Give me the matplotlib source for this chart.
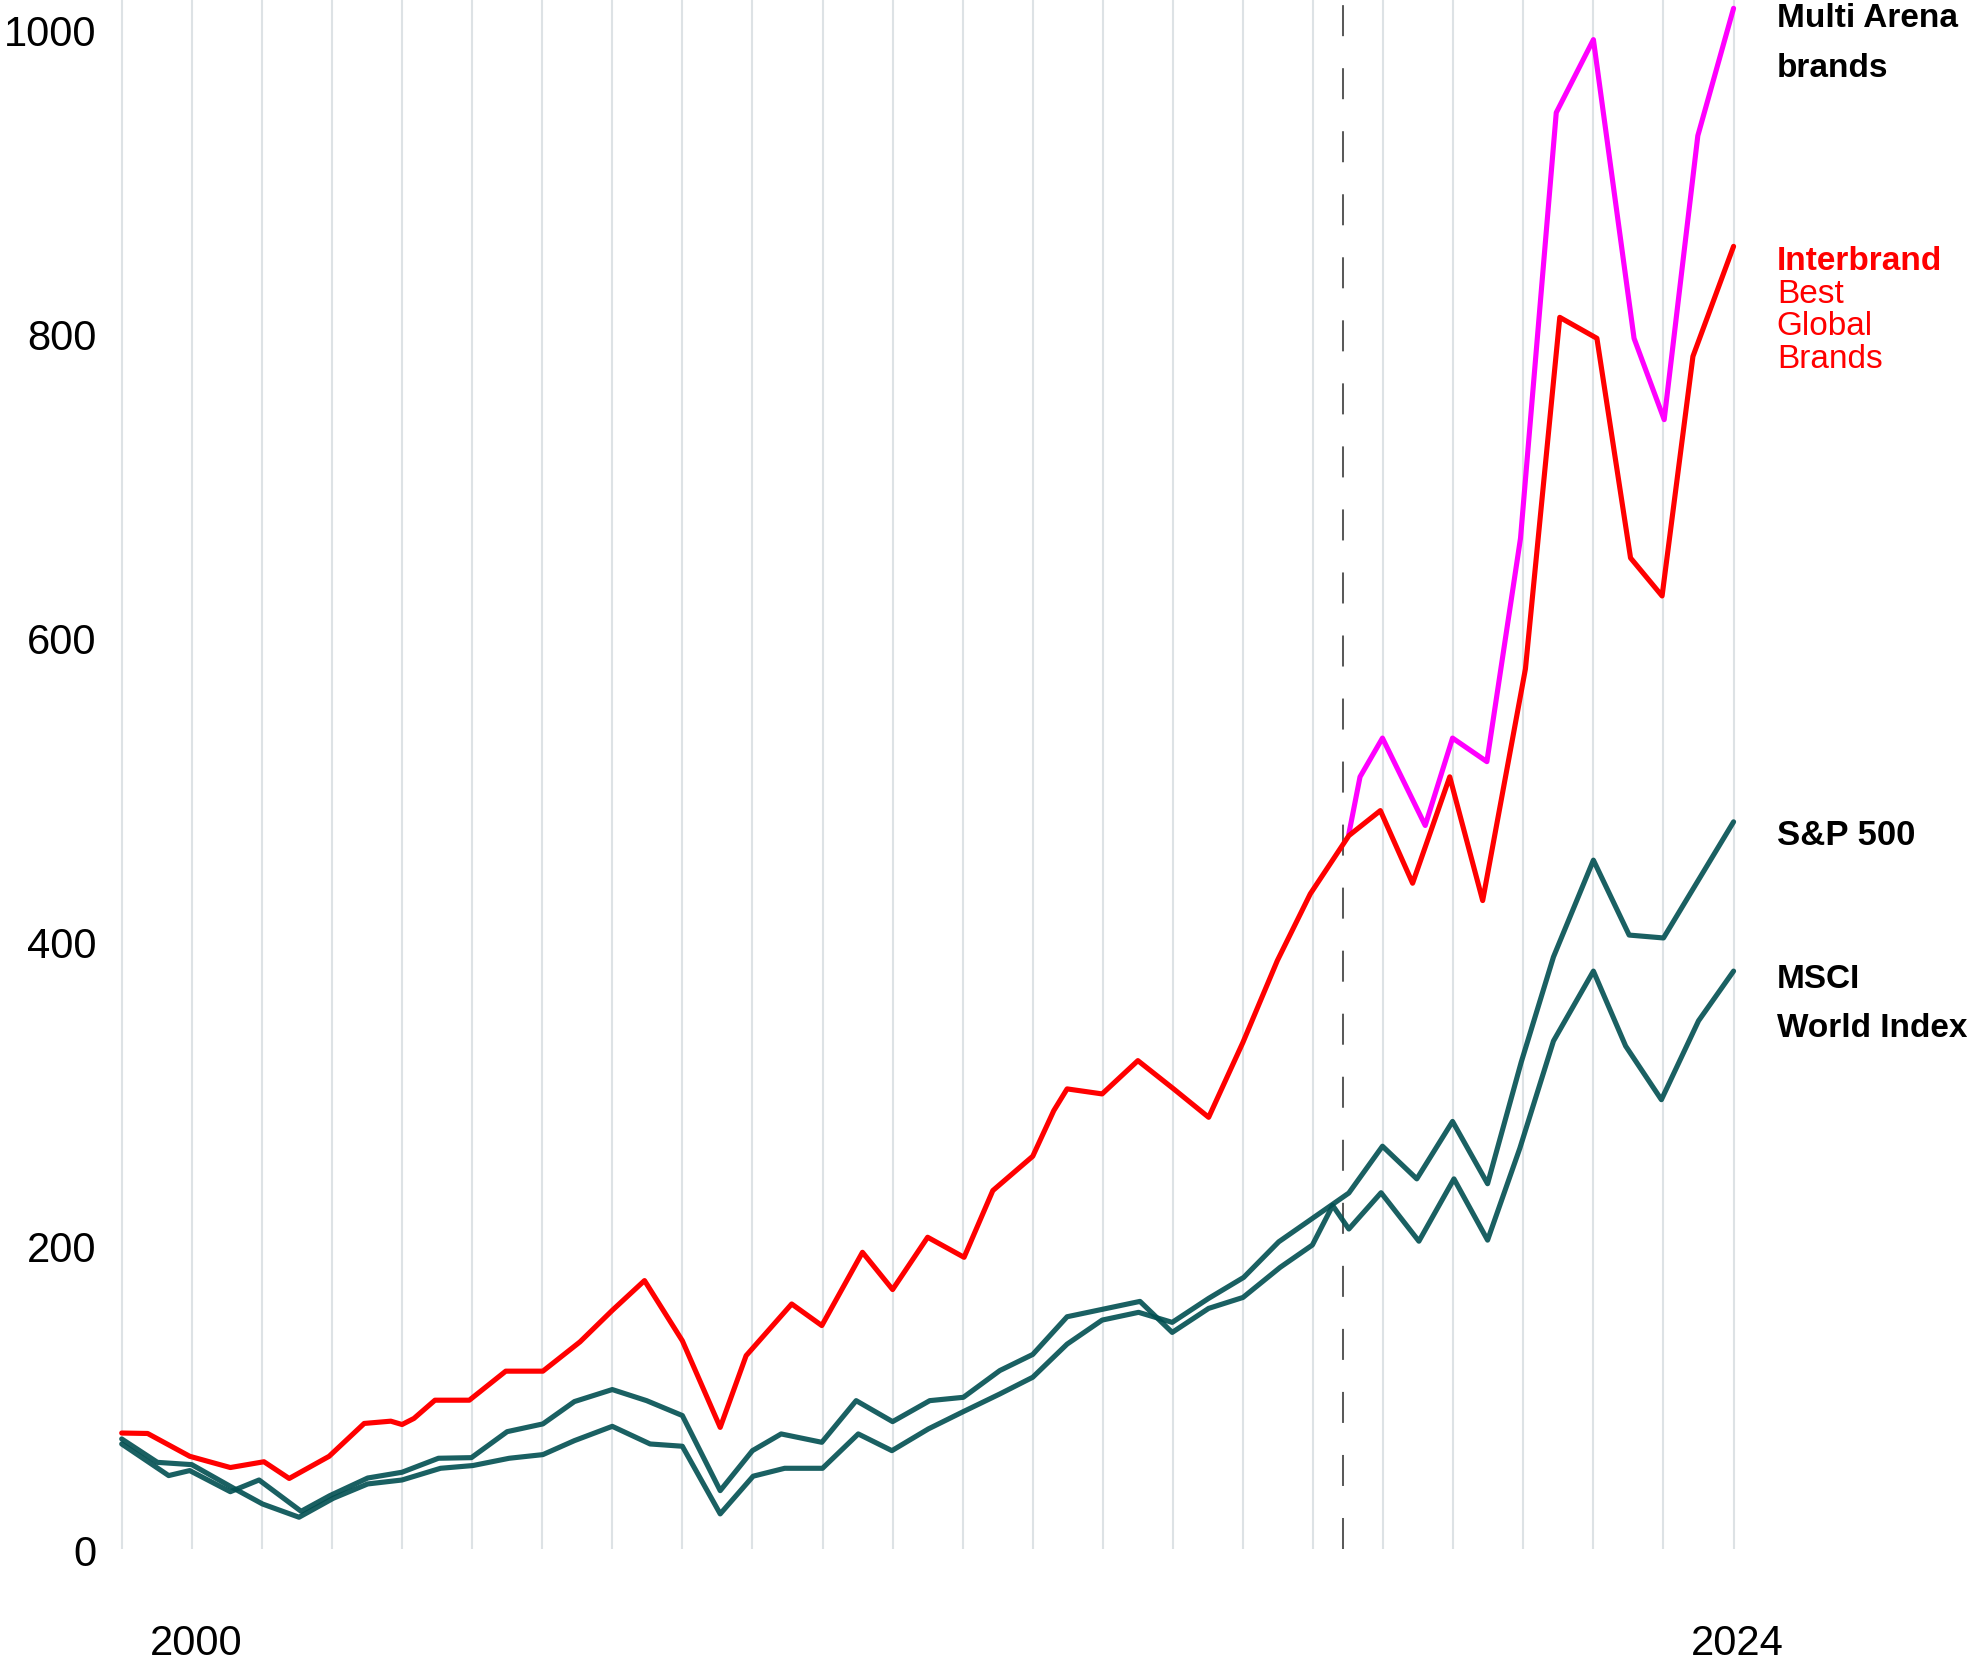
import matplotlib
matplotlib.use("Agg")
import matplotlib.pyplot as plt

# time axis in gridline units (one vertical gridline per step)
t_interbrand = [0, 0.37, 0.97, 1.55, 2.03, 2.39, 2.96, 3.46, 3.84, 4.0, 4.17, 4.47, 4.96, 5.48, 6.01,
                6.54, 7.0, 7.46, 8.0, 8.54, 8.91, 9.56, 9.99, 10.57, 11.0, 11.5, 12.02, 12.43, 13.0,
                13.3, 13.49, 13.99, 14.5, 15.01, 15.51, 16.0, 16.49, 16.96, 17.51, 17.96, 18.42,
                18.95, 19.42, 20.03, 20.52, 21.05, 21.53, 21.98, 22.42, 23.0]
interbrand = [76.3, 76, 61, 53.6, 57.4, 46.4, 61, 82.6, 84.1, 81.9, 85.9, 97.9, 97.9, 117, 117,
              136.3, 157, 176.6, 137, 80, 127.2, 161.2, 147, 195.2, 170.7, 205.1, 191.9, 235.8, 258.4,
              288.4, 302.7, 299.4, 321.3, 302.7, 284, 333.4, 387.1, 431, 469.3, 485.8, 438,
              508, 426.6, 579, 810.3, 796.5, 652, 627, 784.6, 857]

t_multi = [17.51, 17.67, 17.99, 18.6, 18.99, 19.48, 19.96, 20.47, 21.0, 21.58, 22.01, 22.49, 23.0]
multi_arena = [470.4, 508, 533.5, 476, 533.5, 518, 665, 945, 993, 796.5, 743, 929.8, 1013.6]

t_sp500 = [0, 0.51, 1.0, 1.6, 2.01, 2.53, 3.02, 3.51, 4.0, 4.55, 5.01, 5.53, 6.01, 6.46, 7.0, 7.54,
           8.0, 8.54, 9.01, 9.46, 10.0, 10.51, 10.99, 11.51, 12.01, 12.53, 13.0, 13.49, 13.99, 14.51,
           14.99, 15.51, 16.01, 16.51, 16.99, 17.51, 17.99, 18.48, 18.99, 19.49, 19.97, 20.43, 21.0,
           21.51, 22.0, 23.0]
sp500 = [72.4, 57, 55.5, 39.9, 29.6, 20.9, 33.4, 42.8, 45.4, 53.1, 54.9, 59.7, 62.1, 71.3, 80.7, 69.1,
         67.6, 23.1, 47.9, 53.1, 53.1, 75.7, 64.7, 79, 90.4, 102, 113, 134.8, 150.6, 155.7,
         149.1, 164.9, 178.7, 202.1, 217.5, 234.2, 265, 243.5, 281.3, 240.3, 320.3, 389.5, 453.2,
         403.9, 402, 478.4]

t_msci = [0, 0.67, 0.97, 1.55, 1.96, 2.56, 2.97, 3.51, 4.0, 4.52, 4.99, 5.5, 6.01, 6.46, 7.0, 7.49,
          8.0, 8.54, 9.0, 9.41, 9.99, 10.48, 11.0, 11.53, 12.01, 12.53, 13.0, 13.49, 14.53, 14.99,
          15.51, 16.0, 16.53, 16.99, 17.28, 17.51, 17.97, 18.51, 19.01, 19.49, 19.95, 20.43, 21.0,
          21.46, 21.97, 22.5, 23.0]
msci = [69.1, 48.3, 51.6, 37.7, 45.4, 24.8, 35.1, 46.7, 50.5, 59.7, 60.1, 77.2, 82.3, 97, 104.9, 97.6,
        87.8, 38.4, 64.7, 75.7, 70.2, 97.6, 83.8, 97.6, 99.8, 117.4, 128, 152.8, 162.9, 142.5,
        158.3, 165.5, 185.3, 200, 226, 210.5, 234.4, 202.5, 243.5, 203.2, 263.6, 334.2, 380.2,
        330.9, 295.6, 347.5, 380.2]

grid_positions = list(range(24))
x_tick_pos = [1.06, 23.05]
x_tick_labels = ["2000", "2024"]
y_ticks = [0, 200, 400, 600, 800, 1000]
split_pos = 17.43

RED = "#ff0000"
MAGENTA = "#ff00ff"
TEAL = "#014f51"

plt.rcParams["font.family"] = ["Liberation Sans", "DejaVu Sans"]

fig = plt.figure(figsize=(19.67, 16.65), dpi=100)
ax = fig.add_axes([0.04406, 0.069069, 0.85508, 0.93117])
ax.set_xlim(-0.5, 23.5)
ax.set_ylim(0, 1020)

for s in ax.spines.values():
    s.set_visible(False)

# vertical gridlines
ax.set_xticks(grid_positions, minor=True)
ax.xaxis.grid(True, which="minor", color="#dde2e5", lw=1.5)
ax.tick_params(axis="x", which="minor", length=0)
ax.set_xticks(x_tick_pos)
ax.set_xticklabels(x_tick_labels, fontsize=30)
ax.tick_params(axis="x", which="major", length=0, pad=53)

ax.set_yticks(y_ticks)
ax.set_yticklabels([str(v) for v in y_ticks], fontsize=30)
ax.tick_params(axis="y", length=0, pad=-7)
ax.set_axisbelow(True)

ax.axvline(split_pos, color="#5a5a5a", lw=1.45, dashes=(15.4, 15.9), zorder=1)

kw = dict(lw=3.7, solid_joinstyle="round", solid_capstyle="round")
ax.plot(t_multi, multi_arena, color=MAGENTA, zorder=2, **kw)
ax.plot(t_interbrand, interbrand, color=RED, zorder=3, **kw)
ax.plot(t_sp500, sp500, color=TEAL, alpha=0.9, zorder=4, **kw)
ax.plot(t_msci, msci, color=TEAL, alpha=0.9, zorder=4, **kw)

# series labels on the right
lx = 0.9033
H = 1665.0
def lab(txt, base_px, color="black", weight="bold", size=24):
    fig.text(lx, 1 - base_px / H, txt, color=color, fontweight=weight,
             fontsize=size, va="baseline", ha="left")

lab("Multi Arena", 26.7)
lab("brands", 76.7)
lab("Interbrand", 270, color=RED, size=24)
lab("Best", 303.3, color=RED, weight="normal", size=24)
lab("Global", 335, color=RED, weight="normal", size=24)
lab("Brands", 368.3, color=RED, weight="normal", size=24)
lab("S&P 500", 845, size=25)
lab("MSCI", 988.3)
lab("World Index", 1036.7)

fig.savefig("out.png", dpi=100, facecolor="white")
